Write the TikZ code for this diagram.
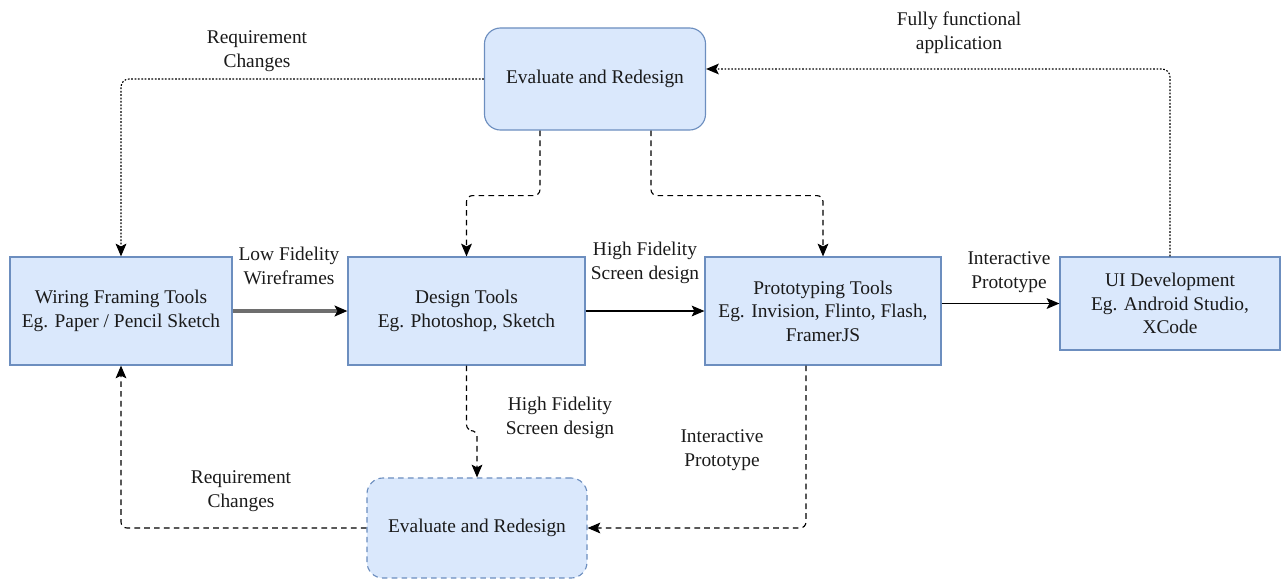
\documentclass[tikz,border=0pt]{standalone}
\usepackage{fontspec}
\setmainfont{LiberationSerif}[Extension=.ttf, UprightFont=*-Regular, BoldFont=*-Bold, ItalicFont=*-Italic, BoldItalicFont=*-BoldItalic]
\usetikzlibrary{positioning, arrows.meta, calc}
\definecolor{boxfill}{HTML}{DAE8FC}
\definecolor{boxline}{HTML}{6C8EBF}
\definecolor{txtdark}{HTML}{1A1A1A}
\definecolor{linegray}{HTML}{6E6E6E}

\begin{document}
\begin{tikzpicture}[x=0.025cm, y=-0.025cm, font=\rmfamily\fontsize{13.8}{16.8}\selectfont,
    box/.style={rectangle, draw=boxline, fill=boxfill, line width=0.8pt, align=center, text=txtdark, inner sep=2pt},
    evalbox/.style={box, rounded corners=0.4cm},
    lbl/.style={align=center, text=txtdark, inner sep=0pt},
    conn/.style={line width=0.8pt, -{Stealth[length=0.32cm, width=0.27cm, inset=0.07cm]}},
    dotline/.style={conn, dash pattern=on 1.2pt off 1.2pt, rounded corners=0.2cm},
    dashline/.style={conn, dash pattern=on 4pt off 3pt, rounded corners=0.15cm}]
  \useasboundingbox (0,0) rectangle (1287,580);

  % boxes
  \node[evalbox, minimum width=5.525cm, minimum height=2.55cm] (evaltop) at (595,79) {Evaluate and Redesign};
  \node[box, minimum width=5.55cm, minimum height=2.7cm] (wire) at (121,311) {Wiring Framing Tools\\Eg. Paper / Pencil Sketch};
  \node[box, minimum width=5.925cm, minimum height=2.7cm] (design) at (466.5,311) {Design Tools\\Eg. Photoshop, Sketch};
  \node[box, minimum width=5.9cm, minimum height=2.7cm] (proto) at (823,311) {Prototyping Tools\\Eg. Invision, Flinto, Flash,\\FramerJS};
  \node[box, minimum width=5.5cm, minimum height=2.325cm] (uidev) at (1170,303.5) {UI Development\\Eg. Android Studio,\\XCode};
  \node[evalbox, dash pattern=on 4pt off 3pt, minimum width=5.5cm, minimum height=2.5cm] (evalbot) at (477,528) {Evaluate and Redesign};

  % main flow
  \draw[conn, draw=linegray, line width=2.2pt, -{Stealth[length=0.32cm, width=0.27cm, inset=0.07cm, black]}] (wire) -- (design);
  \draw[conn] (design) -- (proto);
  \draw[conn] (uidev.west -| proto.east) -- (uidev.west);

  % feedback from the top review
  \draw[dotline] (evaltop.west) -| (wire.north);
  \draw[dashline] ([xshift=-1.375cm]evaltop.south) -- ++(0,65) -| (design.north);
  \draw[dashline] ([xshift=1.4cm]evaltop.south) -- ++(0,65) -| (proto.north);
  \draw[dotline] (uidev.north) |- ([yshift=0.25cm]evaltop.east);

  % bottom review loop
  \draw[dashline] (design.south) -- ++(0,65) -| (evalbot.north);
  \draw[dashline] ([xshift=-0.425cm]proto.south) |- (evalbot.east);
  \draw[dashline] (evalbot.west) -| (wire.south);

  % labels
  \node[lbl] (reqtop) at (257,51) {Requirement\\Changes};
  \node[lbl] (fully) at (959,33) {Fully functional\\application};
  \node[lbl] (lowfi) at (289,266) {Low Fidelity\\Wireframes};
  \node[lbl] (hifitop) at (645,263) {High Fidelity\\Screen design};
  \node[lbl] (interright) at (1009,272) {Interactive\\Prototype};
  \node[lbl] (hifibot) at (560,418) {High Fidelity\\Screen design};
  \node[lbl] (interbot) at (722,450) {Interactive\\Prototype};
  \node[lbl] (reqbot) at (241,491) {Requirement\\Changes};
\end{tikzpicture}
\end{document}
